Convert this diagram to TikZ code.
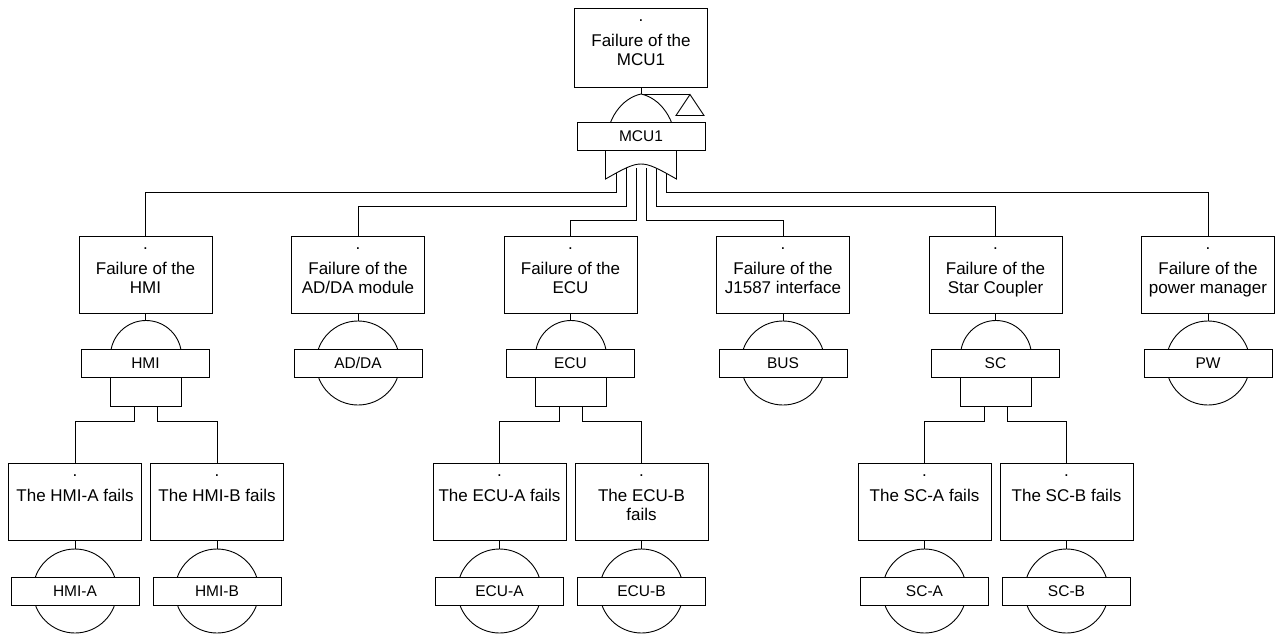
\documentclass[tikz,border=0pt]{standalone}
\usepackage{fontspec}
\setmainfont{Liberation Sans}

\pgfdeclarelayer{wires}
\pgfdeclarelayer{shapes}
\pgfsetlayers{wires,shapes,main}

% event box text: a dot line, then the description, top aligned
\newcommand\evtext[2][77]{\parbox[c][#1pt][t]{133pt}{\centering\fontsize{17}{19}\selectfont\rule{0pt}{13pt}.\\[6pt]#2}}

\tikzset{
  wire/.style={line width=0.9pt},
  evbox/.style={draw, fill=white, line width=0.9pt, inner sep=0pt, outer sep=0pt},
  tag/.style={draw, fill=white, line width=0.9pt, minimum width=128pt, minimum height=28pt,
    inner sep=0pt, outer sep=0pt, text height=11pt, text depth=0pt,
    font=\fontsize{15.5}{18}\selectfont},
  gateshape/.style={draw, fill=white, line width=0.9pt},
  andgate/.pic={
    \path[gateshape] (-35.5,50.5) -- (-35.5,0)
      .. controls (-35.5,-19.6) and (-19.6,-35.5) .. (0,-35.5)
      .. controls (19.6,-35.5) and (35.5,-19.6) .. (35.5,0)
      -- (35.5,50.5) -- cycle;
  },
  orgate/.pic={
    \path[gateshape] (-35.5,0) -- (-35.5,29)
      .. controls (0,9) .. (35.5,29) -- (35.5,0)
      .. controls (35.5,-32) and (18.5,-52) .. (0,-56)
      .. controls (-18.5,-52) and (-35.5,-32) .. (-35.5,0) -- cycle;
  },
}

\begin{document}
\begin{tikzpicture}[x=1pt,y=-1pt]
\useasboundingbox (0,0) rectangle (1277,633);
\clip (0,0) rectangle (1277,633);

% ---------- event boxes ----------
\node[evbox] (top) at (641,47.5) {\evtext[79]{Failure of the\\MCU1}};

\node[evbox] (hmi)  at (145.5,274.5) {\evtext{Failure of the\\HMI}};
\node[evbox] (adda) at (358,274.5)   {\evtext{Failure of the\\AD/DA module}};
\node[evbox] (ecu)  at (570.5,274.5) {\evtext{Failure of the\\ECU}};
\node[evbox] (bus)  at (783,274.5)   {\evtext{Failure of the\\J1587 interface}};
\node[evbox] (sc)   at (995.5,274.5) {\evtext{Failure of the\\Star Coupler}};
\node[evbox] (pw)   at (1208,274.5)  {\evtext{Failure of the\\power manager}};

\node[evbox] (hmia) at (75,501.5)     {\evtext{The HMI-A fails}};
\node[evbox] (hmib) at (217,501.5)    {\evtext{The HMI-B fails}};
\node[evbox] (ecua) at (499.5,501.5)  {\evtext{The ECU-A fails}};
\node[evbox] (ecub) at (641.5,501.5)  {\evtext{The ECU-B\\fails}};
\node[evbox] (sca)  at (924.5,501.5)  {\evtext{The SC-A fails}};
\node[evbox] (scb)  at (1066.5,501.5) {\evtext{The SC-B fails}};

% ---------- gate and event tags ----------
\node[tag] (Ltop)  at (641,136)   {MCU1};
\node[tag] (Lhmi)  at (145.5,363) {HMI};
\node[tag] (Ladda) at (358,363)   {AD/DA};
\node[tag] (Lecu)  at (570.5,363) {ECU};
\node[tag] (Lbus)  at (783,363)   {BUS};
\node[tag] (Lsc)   at (995.5,363) {SC};
\node[tag] (Lpw)   at (1208,363)  {PW};
\node[tag] (Lhmia) at (75,591)     {HMI-A};
\node[tag] (Lhmib) at (217,591)    {HMI-B};
\node[tag] (Lecua) at (499.5,591)  {ECU-A};
\node[tag] (Lecub) at (641.5,591)  {ECU-B};
\node[tag] (Lsca)  at (924.5,591)  {SC-A};
\node[tag] (Lscb)  at (1066.5,591) {SC-B};

% ---------- gate symbols ----------
\begin{pgfonlayer}{shapes}
  \pic at (641,150) {orgate};
  \pic at (146,356) {andgate};
  \pic at (571,356) {andgate};
  \pic at (996,356) {andgate};
  % basic events
  \foreach \cx/\cy in {358/363, 783/363, 1208/363,
                       75/591, 217/591, 499.5/591, 641.5/591, 924.5/591, 1066.5/591}
    \path[gateshape] (\cx,\cy) circle[radius=42];
  % transfer triangle
  \coordinate (xfer) at (690,94.5);
  \draw[wire] (xfer) -- ++(14,21) -- ++(-28,0) -- cycle;
\end{pgfonlayer}

% ---------- connectors ----------
\coordinate (apex) at (641,94.5);
\coordinate (in1) at (616.5,168);
\coordinate (in2) at (626.5,168);
\coordinate (in3) at (636.5,168);
\coordinate (in4) at (646.5,168);
\coordinate (in5) at (656.5,168);
\coordinate (in6) at (666.5,168);
\coordinate (hmiOa) at (134.5,400);
\coordinate (hmiOb) at (157.5,400);
\coordinate (ecuOa) at (559.5,400);
\coordinate (ecuOb) at (582.5,400);
\coordinate (scOa)  at (984.5,400);
\coordinate (scOb)  at (1007.5,400);

\begin{pgfonlayer}{wires}
  \draw[wire] (top.south) -- (Ltop.center);
  \draw[wire] (apex) -- (xfer);

  \draw[wire] (in1) |- ([yshift=43.5pt]hmi.north)  -- (hmi.north);
  \draw[wire] (in2) |- ([yshift=29.5pt]adda.north) -- (adda.north);
  \draw[wire] (in3) |- ([yshift=15.5pt]ecu.north)  -- (ecu.north);
  \draw[wire] (in4) |- ([yshift=15.5pt]bus.north)  -- (bus.north);
  \draw[wire] (in5) |- ([yshift=29.5pt]sc.north)   -- (sc.north);
  \draw[wire] (in6) |- ([yshift=43.5pt]pw.north)   -- (pw.north);

  \foreach \b in {hmi,adda,ecu,bus,sc,pw,hmia,hmib,ecua,ecub,sca,scb}
    \draw[wire] (\b.south) -- ++(0,20);

  \draw[wire] (hmiOa) |- ([yshift=41.5pt]hmia.north) -- (hmia.north);
  \draw[wire] (hmiOb) |- ([yshift=41.5pt]hmib.north) -- (hmib.north);
  \draw[wire] (ecuOa) |- ([yshift=41.5pt]ecua.north) -- (ecua.north);
  \draw[wire] (ecuOb) |- ([yshift=41.5pt]ecub.north) -- (ecub.north);
  \draw[wire] (scOa)  |- ([yshift=41.5pt]sca.north)  -- (sca.north);
  \draw[wire] (scOb)  |- ([yshift=41.5pt]scb.north)  -- (scb.north);
\end{pgfonlayer}
\end{tikzpicture}
\end{document}
